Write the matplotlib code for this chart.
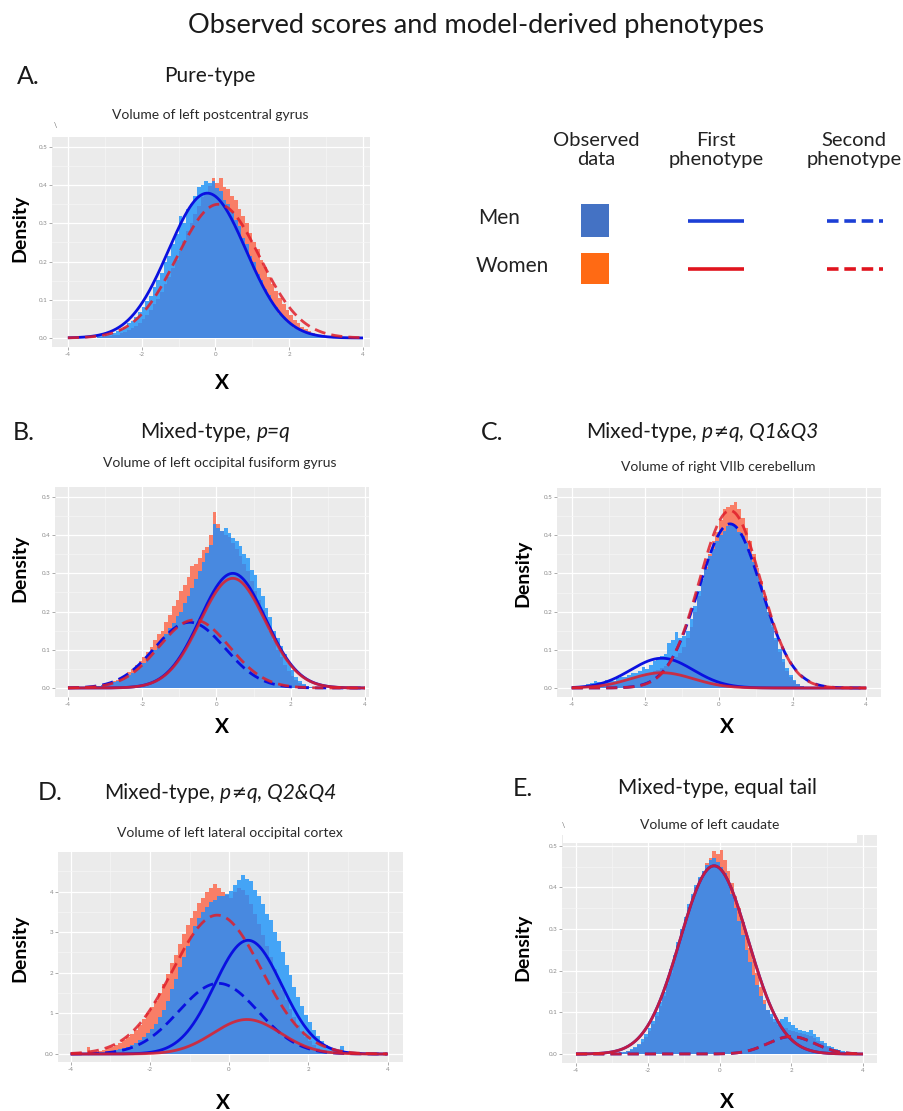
import numpy as np
import matplotlib
matplotlib.use("Agg")
import matplotlib.pyplot as plt
from matplotlib.patches import Rectangle
from matplotlib.ticker import MultipleLocator

W, H = 904, 1111
plt.rcParams['font.family'] = ['Lato', 'DejaVu Sans']

BIN = 0.1

# ---------------- data ----------------
# Panel A : Volume of left postcentral gyrus
A_start = -3.2
A_men = [0.004,0.006,0.008,0.010,0.013,0.018,0.024,0.028,0.038,0.045,
         0.055,0.068,0.080,0.097,0.110,0.133,0.152,0.170,0.200,0.215,
         0.245,0.272,0.318,0.300,0.338,0.350,0.372,0.395,0.400,0.412,
         0.405,0.410,0.392,0.385,0.362,0.350,0.330,0.310,0.292,0.262,
         0.245,0.215,0.198,0.168,0.152,0.128,0.112,0.093,0.080,0.064,
         0.055,0.042,0.036,0.027,0.022,0.017,0.013,0.010,0.007,0.005,
         0.004,0.003,0.002,0.001]
A_women = [0.002,0.003,0.004,0.005,0.007,0.009,0.012,0.015,0.020,0.026,
           0.032,0.040,0.050,0.060,0.072,0.088,0.103,0.120,0.140,0.160,
           0.182,0.205,0.228,0.255,0.280,0.302,0.325,0.345,0.368,0.382,
           0.398,0.420,0.405,0.420,0.395,0.390,0.372,0.362,0.338,0.318,
           0.300,0.275,0.250,0.232,0.205,0.185,0.160,0.140,0.122,0.105,
           0.090,0.074,0.060,0.048,0.038,0.030,0.023,0.017,0.012,0.009,
           0.006,0.004,0.003,0.002]
# curves: (sex, phenotype, mean, sd, peak height)
A_curves = [("men", "first", -0.22, 1.05, 0.379),
            ("women", "second", 0.08, 1.12, 0.350)]

# Panel B : Volume of left occipital fusiform gyrus
B_start = -3.5
B_men = [0.002,0.003,0.004,0.005,0.007,0.009,0.012,0.015,0.018,0.022,
         0.028,0.033,0.040,0.048,0.058,0.066,0.078,0.090,0.100,0.115,
         0.128,0.140,0.158,0.170,0.188,0.200,0.222,0.240,0.262,0.285,
         0.305,0.330,0.352,0.375,0.430,0.420,0.410,0.418,0.405,0.392,
         0.385,0.372,0.350,0.340,0.310,0.295,0.262,0.240,0.210,0.185,
         0.150,0.130,0.110,0.088,0.065,0.048,0.030,0.018,0.010,0.005,
         0.003,0.002,0.001,0.0,0.0,0.0]
B_women = [0.002,0.003,0.005,0.006,0.008,0.011,0.014,0.018,0.022,0.028,
           0.034,0.042,0.050,0.060,0.070,0.082,0.095,0.108,0.125,0.140,
           0.150,0.172,0.190,0.215,0.230,0.255,0.270,0.290,0.318,0.325,
           0.340,0.360,0.370,0.400,0.460,0.430,0.410,0.400,0.395,0.380,
           0.365,0.345,0.325,0.305,0.280,0.255,0.230,0.205,0.178,0.150,
           0.125,0.100,0.080,0.060,0.045,0.032,0.020,0.012,0.007,0.004,
           0.002,0.001,0.001,0.0,0.0,0.0]
B_curves = [("men", "second", -0.72, 0.95, 0.172),
            ("women", "second", -0.60, 0.95, 0.178),
            ("men", "first", 0.44, 0.88, 0.300),
            ("women", "first", 0.44, 0.88, 0.287)]

# Panel C : Volume of right VIIb cerebellum
C_start = -3.7
C_men = [0.004,0.010,0.012,0.018,0.016,0.015,0.020,0.022,0.018,0.025,
         0.028,0.030,0.035,0.040,0.038,0.045,0.055,0.050,0.060,0.070,
         0.078,0.085,0.090,0.118,0.125,0.148,0.130,0.135,0.150,0.180,
         0.215,0.255,0.285,0.312,0.345,0.365,0.385,0.400,0.412,0.425,
         0.430,0.425,0.410,0.398,0.380,0.350,0.330,0.300,0.268,0.238,
         0.200,0.165,0.130,0.102,0.075,0.052,0.035,0.020,0.010,0.005,
         0.003,0.002,0.001,0.0,0.0]
C_women = [0.002,0.004,0.006,0.008,0.008,0.010,0.012,0.012,0.014,0.016,
           0.018,0.020,0.022,0.025,0.028,0.030,0.033,0.036,0.040,0.045,
           0.048,0.052,0.058,0.065,0.072,0.082,0.092,0.108,0.130,0.160,
           0.200,0.240,0.280,0.318,0.352,0.385,0.410,0.440,0.470,0.475,
           0.480,0.488,0.470,0.445,0.420,0.385,0.350,0.315,0.280,0.240,
           0.200,0.160,0.125,0.095,0.068,0.045,0.030,0.018,0.010,0.005,
           0.003,0.002,0.001,0.0,0.0]
C_curves = [("men", "first", -1.55, 0.85, 0.078),
            ("women", "first", -1.55, 0.85, 0.040),
            ("men", "second", 0.30, 0.85, 0.430),
            ("women", "second", 0.30, 0.83, 0.465)]

# Panel D : Volume of left lateral occipital cortex
D_start = -3.7
D_men = [0.001,0.002,0.002,0.003,0.004,0.005,0.006,0.008,0.010,0.012,
         0.015,0.018,0.022,0.028,0.034,0.042,0.052,0.062,0.075,0.090,
         0.108,0.130,0.160,0.185,0.215,0.240,0.265,0.290,0.315,0.335,
         0.350,0.362,0.375,0.380,0.390,0.388,0.395,0.402,0.415,0.428,
         0.440,0.432,0.425,0.405,0.390,0.370,0.345,0.330,0.300,0.278,
         0.250,0.220,0.195,0.165,0.140,0.118,0.095,0.078,0.060,0.045,
         0.032,0.022,0.015,0.010,0.008,0.020,0.004,0.002,0.001,0.0]
D_women = [0.002,0.018,0.004,0.006,0.008,0.010,0.014,0.018,0.022,0.028,
           0.034,0.042,0.050,0.060,0.072,0.085,0.100,0.115,0.130,0.150,
           0.172,0.198,0.225,0.245,0.272,0.295,0.318,0.335,0.352,0.372,
           0.385,0.400,0.408,0.418,0.410,0.400,0.392,0.385,0.400,0.410,
           0.405,0.392,0.370,0.345,0.320,0.292,0.265,0.240,0.210,0.185,
           0.158,0.132,0.110,0.090,0.072,0.056,0.042,0.032,0.022,0.015,
           0.010,0.007,0.005,0.003,0.002,0.001,0.001,0.0,0.0,0.0]
D_curves = [("men", "second", -0.27, 1.00, 0.174),
            ("women", "second", -0.30, 1.12, 0.342),
            ("men", "first", 0.48, 0.85, 0.280),
            ("women", "first", 0.45, 0.85, 0.085)]

# Panel E : Volume of left caudate
E_start = -3.0
E_men = [0.002,0.003,0.005,0.006,0.008,0.012,0.018,0.025,0.035,0.048,
         0.062,0.080,0.100,0.125,0.150,0.180,0.205,0.238,0.270,0.300,
         0.330,0.360,0.385,0.405,0.425,0.440,0.455,0.465,0.470,0.462,
         0.450,0.435,0.410,0.385,0.350,0.320,0.285,0.250,0.220,0.190,
         0.165,0.140,0.120,0.105,0.095,0.085,0.080,0.085,0.090,0.078,
         0.070,0.062,0.058,0.055,0.052,0.058,0.048,0.040,0.032,0.026,
         0.020,0.016,0.012,0.010,0.008,0.006,0.004,0.003,0.002]
E_women = [0.001,0.002,0.003,0.005,0.007,0.010,0.015,0.022,0.030,0.042,
           0.055,0.072,0.092,0.115,0.140,0.168,0.195,0.228,0.262,0.295,
           0.325,0.352,0.380,0.402,0.422,0.440,0.458,0.470,0.488,0.480,
           0.490,0.465,0.440,0.410,0.380,0.350,0.318,0.285,0.255,0.225,
           0.195,0.160,0.130,0.105,0.088,0.078,0.070,0.066,0.062,0.058,
           0.055,0.052,0.050,0.048,0.046,0.044,0.038,0.032,0.026,0.020,
           0.016,0.012,0.009,0.007,0.005,0.004,0.003,0.002,0.001]
E_curves = [("men", "second", 2.00, 0.65, 0.042),
            ("women", "second", 2.00, 0.65, 0.042),
            ("men", "first", -0.15, 0.95, 0.452),
            ("women", "first", -0.15, 0.95, 0.452)]

x_ticks = [-4, -2, 0, 2, 4]
x_ticklabels = ["-4", "-2", "0", "2", "4"]
y_ticks = [0.0, 0.1, 0.2, 0.3, 0.4, 0.5]
y_ticklabels = ["0.0", "0.1", "0.2", "0.3", "0.4", "0.5"]
D_y_ticks = [0.0, 0.1, 0.2, 0.3, 0.4]
D_y_ticklabels = ["0.0", "1", "2", "3", "4"]

# ---------------- style ----------------
SALMON = "#F97E67"
LIGHTBLUE = "#44A4F6"
MIDBLUE = "#4889E0"
CURVE_BLUE = "#0A10E0"
CURVE_RED = "#E01E2A"
PANEL_BG = "#EBEBEB"
TICKC = "#8A8A8A"

fig = plt.figure(figsize=(W / 100, H / 100), dpi=100)


def add_panel(box, xlim, ylim, start, men, women, curves, yt, ytl):
    l, t, r, b = box
    ax = fig.add_axes([l / W, 1 - b / H, (r - l) / W, (b - t) / H])
    ax.set_facecolor(PANEL_BG)
    for s in ax.spines.values():
        s.set_visible(False)
    ax.set_xlim(*xlim)
    ax.set_ylim(*ylim)
    ax.set_xticks(x_ticks)
    ax.set_xticklabels(x_ticklabels)
    ax.set_yticks(yt)
    ax.set_yticklabels(ytl)
    ax.xaxis.set_minor_locator(MultipleLocator(1))
    ax.yaxis.set_minor_locator(MultipleLocator(0.05))
    ax.grid(True, which="major", color="white", lw=0.9)
    ax.grid(True, which="minor", color="#F6F6F6", lw=0.5)
    ax.set_axisbelow(True)
    ax.tick_params(which="major", labelsize=4.5, colors=TICKC, length=2,
                   width=0.5, pad=1.5)
    ax.tick_params(which="minor", length=0)
    men = np.asarray(men)
    women = np.asarray(women)
    edges = start + BIN * np.arange(len(men) + 1)
    ax.stairs(women, edges, fill=True, color=SALMON, lw=0, zorder=2)
    ax.stairs(men, edges, fill=True, color=LIGHTBLUE, lw=0, zorder=2.1)
    ax.stairs(np.minimum(men, women), edges, fill=True, color=MIDBLUE, lw=0,
              zorder=2.2)
    xs = np.linspace(-4, 4, 500)
    for sex, ph, mu, sd, pk in curves:
        col = CURVE_BLUE if sex == "men" else CURVE_RED
        alpha = 1.0 if sex == "men" else 0.85
        ls = "-" if ph == "first" else (0, (4, 2.2))
        ax.plot(xs, pk * np.exp(-0.5 * ((xs - mu) / sd) ** 2), color=col,
                lw=2.0, ls=ls, alpha=alpha, zorder=3 if sex == "men" else 3.5,
                solid_capstyle="butt", dash_capstyle="butt")
    return ax


add_panel((52, 137, 370, 347), (-4.43, 4.19), (-0.0236, 0.526),
          A_start, A_men, A_women, A_curves, y_ticks, y_ticklabels)
add_panel((55, 487, 369, 697), (-4.35, 4.11), (-0.0236, 0.526),
          B_start, B_men, B_women, B_curves, y_ticks, y_ticklabels)
add_panel((557, 488, 881, 697), (-4.4, 4.4), (-0.0236, 0.524),
          C_start, C_men, C_women, C_curves, y_ticks, y_ticklabels)
add_panel((58, 852, 403, 1062), (-4.32, 4.39), (-0.0197, 0.4975),
          D_start, D_men, D_women, D_curves, D_y_ticks, D_y_ticklabels)
add_panel((562, 835, 877, 1063), (-4.39, 4.39), (-0.0216, 0.526),
          E_start, E_men, E_women, E_curves, y_ticks, y_ticklabels)

# overlay axes in pixel coordinates for text & legend
ov = fig.add_axes([0, 0, 1, 1], zorder=10)
ov.set_axis_off()
ov.set_xlim(0, W)
ov.set_ylim(H, 0)
ov.patch.set_alpha(0)

# white patch at top of panel E (from the original figure)
ov.add_patch(Rectangle((563, 835), 294, 8, color="white", lw=0))

TXT = "#1A1A1A"
ov.text(476, 25, "Observed scores and model-derived phenotypes", fontsize=19.5,
        ha="center", va="center", color=TXT)

# panel letters
for lab, x, y in [("A.", 28, 77), ("B.", 24, 432), ("C.", 492, 432),
                  ("D.", 50, 793), ("E.", 523, 788)]:
    ov.text(x, y, lab, fontsize=18, ha="center", va="center", color=TXT)

renderer = fig.canvas.get_renderer()
LATO = ["Lato", "DejaVu Sans"]
DJV = ["DejaVu Sans"]


def rich_title(xc, y, parts, size=15):
    # parts: (text, style, family, size factor, gap after)
    texts, widths, gaps = [], [], []
    for s, st, fam, fac, gap in parts:
        t = ov.text(0, y, s, fontsize=size * fac, style=st, family=fam,
                    ha="left", va="center", color=TXT)
        texts.append(t)
        widths.append(t.get_window_extent(renderer).width)
        gaps.append(gap * size * 100 / 72)
    total = sum(widths) + sum(gaps[:-1])
    x = xc - total / 2
    for t, w, g in zip(texts, widths, gaps):
        t.set_x(x)
        x += w + g


rich_title(210, 76, [("Pure-type", "normal", LATO, 1, 0)])
rich_title(215, 432, [("Mixed-type,", "normal", LATO, 1, 0.28),
                      ("p=q", "italic", LATO, 1, 0)])
rich_title(702, 432, [("Mixed-type,", "normal", LATO, 1, 0.28),
                      ("p", "italic", LATO, 1, 0.02),
                      ("≠", "oblique", DJV, 0.85, 0.02),
                      ("q, Q1&Q3", "italic", LATO, 1, 0)])
rich_title(220, 793, [("Mixed-type,", "normal", LATO, 1, 0.28),
                      ("p", "italic", LATO, 1, 0.02),
                      ("≠", "oblique", DJV, 0.85, 0.02),
                      ("q, Q2&Q4", "italic", LATO, 1, 0)])
rich_title(718, 788, [("Mixed-type, equal tail", "normal", LATO, 1, 0)])

# subtitles
for s, x, y in [("Volume of left postcentral gyrus", 210, 115),
                ("Volume of left occipital fusiform gyrus", 220, 463),
                ("Volume of right VIIb cerebellum", 718, 467),
                ("Volume of left lateral occipital cortex", 230, 833),
                ("Volume of left caudate", 710, 825)]:
    ov.text(x, y, s, fontsize=10, ha="center", va="center", color="#2A2A2A")

# small remnants
ov.text(55, 125, "\\", fontsize=5, ha="center", va="center", color="#666666")
ov.text(563, 825, "\\", fontsize=5, ha="center", va="center", color="#666666")

# axis labels
for x, y in [(20, 228), (20, 568), (523, 573), (20, 948), (523, 947)]:
    ov.text(x, y, "Density", fontsize=14, fontweight="bold", rotation=90,
            ha="center", va="center", color="black")
for x, y in [(222, 383), (222, 727), (727, 727), (223, 1103), (727, 1102)]:
    ov.text(x, y, "X", fontsize=15, fontweight="bold", ha="center",
            va="center", color="black")

# legend
LEG = "#222222"
ov.text(596, 150, "Observed\ndata", fontsize=14.5, ha="center", va="center",
        color=LEG, linespacing=1.1)
ov.text(716, 150, "First\nphenotype", fontsize=14.5, ha="center", va="center",
        color=LEG, linespacing=1.1)
ov.text(854, 150, "Second\nphenotype", fontsize=14.5, ha="center", va="center",
        color=LEG, linespacing=1.1)
ov.text(499, 218, "Men", fontsize=15, ha="center", va="center", color=LEG)
ov.text(512, 266, "Women", fontsize=15, ha="center", va="center", color=LEG)
ov.add_patch(Rectangle((581, 204), 28, 33, color="#4472C4", lw=0))
ov.add_patch(Rectangle((581, 253), 28, 31, color="#FF6A14", lw=0))
ov.plot([688, 744], [221, 221], color="#1C3FD6", lw=2.6, solid_capstyle="butt")
ov.plot([827, 883], [221, 221], color="#1C3FD6", lw=2.6, ls=(0, (3.2, 1.6)),
        dash_capstyle="butt")
ov.plot([688, 744], [269, 269], color="#E0141E", lw=2.6, solid_capstyle="butt")
ov.plot([827, 883], [269, 269], color="#E0141E", lw=2.6, ls=(0, (3.2, 1.6)),
        dash_capstyle="butt")

fig.savefig("out.png", dpi=100, facecolor="white")
